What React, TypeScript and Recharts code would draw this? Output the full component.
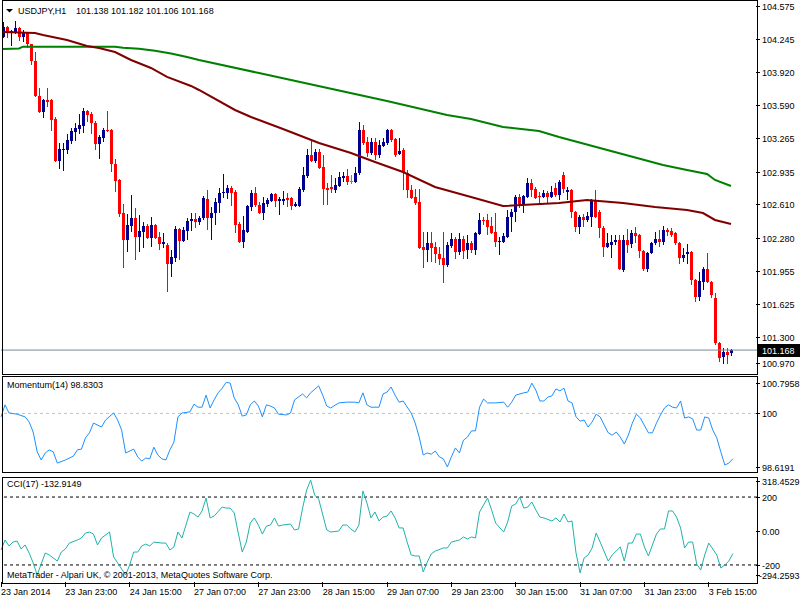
import React from 'react';
import { ComposedChart, Bar, Line, XAxis, YAxis, ReferenceLine } from 'recharts';

const FONT = '"Liberation Sans", Arial, sans-serif';
const BULL = '#000090';
const BEAR = '#FF0000';
const DOJI = '#808080';

const symbolTitle = 'USDJPY,H1';
const ohlcTitle = '101.138 101.182 101.106 101.168';
const momTitle = 'Momentum(14) 98.8303';
const cciTitle = 'CCI(17) -132.9149';
const copyright = 'MetaTrader - Alpari UK, \u00A9 2001-2013, MetaQuotes Software Corp.';

const opens = [104.268,104.367,104.317,104.307,104.357,104.268,104.307,104.198,104.030,103.684,
103.525,103.644,103.644,103.456,103.040,103.149,103.149,103.238,103.327,103.357,
103.386,103.535,103.505,103.416,103.208,103.268,103.347,103.347,103.010,102.852,
102.525,102.258,102.396,102.476,102.287,102.337,102.396,102.278,102.406,102.287,
102.218,102.208,102.020,102.080,102.367,102.248,102.347,102.446,102.466,102.436,
102.476,102.664,102.476,102.525,102.624,102.723,102.723,102.773,102.733,102.416,
102.238,102.337,102.584,102.723,102.604,102.525,102.614,102.644,102.713,102.644,
102.644,102.674,102.674,102.594,102.594,102.753,102.891,103.099,103.040,103.129,
102.981,102.773,102.783,102.753,102.792,102.872,102.891,102.842,102.832,102.921,
103.347,103.228,103.119,103.228,103.099,103.188,103.218,103.347,103.258,103.109,
103.149,102.921,102.753,102.684,102.634,102.188,102.159,102.228,102.188,102.119,
102.080,102.010,102.198,102.268,102.139,102.268,102.159,102.228,102.159,102.317,
102.456,102.456,102.396,102.337,102.238,102.238,102.287,102.485,102.535,102.684,
102.614,102.684,102.822,102.763,102.693,102.684,102.723,102.684,102.773,102.703,
102.901,102.733,102.753,102.535,102.386,102.485,102.456,102.485,102.644,102.535,
102.377,102.188,102.208,102.238,102.258,101.961,102.258,102.218,102.327,102.307,
102.149,101.971,102.129,102.228,102.268,102.238,102.357,102.347,102.327,102.228,
102.080,102.119,102.139,101.862,101.693,101.842,101.971,101.842,101.684,101.238,
101.099,101.149,101.138];

const highs = [104.416,104.377,104.337,104.426,104.367,104.337,104.317,104.198,104.119,103.763,
103.654,103.763,103.654,103.476,103.218,103.218,103.307,103.367,103.416,103.505,
103.565,103.545,103.525,103.436,103.297,103.367,103.535,103.357,103.060,102.862,
102.614,102.515,102.703,102.574,102.505,102.436,102.416,102.485,102.416,102.337,
102.327,102.228,102.159,102.396,102.377,102.386,102.476,102.525,102.525,102.495,
102.693,102.753,102.584,102.674,102.773,102.911,102.802,102.792,102.753,102.436,
102.495,102.604,102.753,102.783,102.634,102.684,102.674,102.723,102.723,102.684,
102.743,102.723,102.684,102.634,102.783,102.981,103.159,103.248,103.159,103.159,
103.099,102.822,102.901,102.872,102.931,102.931,102.961,102.901,102.981,103.426,
103.396,103.278,103.268,103.268,103.248,103.268,103.357,103.357,103.268,103.268,
103.169,102.951,102.802,102.763,102.763,102.337,102.337,102.337,102.238,102.188,
102.337,102.238,102.327,102.287,102.327,102.297,102.307,102.248,102.337,102.525,
102.485,102.515,102.485,102.525,102.287,102.327,102.555,102.565,102.703,102.713,
102.703,102.872,102.862,102.783,102.733,102.753,102.743,102.792,102.822,102.852,
102.931,102.783,102.763,102.545,102.505,102.515,102.535,102.664,102.753,102.555,
102.396,102.327,102.307,102.307,102.307,102.307,102.367,102.357,102.386,102.317,
102.159,102.139,102.238,102.337,102.357,102.396,102.377,102.377,102.337,102.238,
102.179,102.218,102.149,101.872,101.941,101.990,102.129,101.852,101.733,101.248,
101.188,101.188,101.182];

const lows = [104.258,104.258,104.179,104.297,104.228,104.218,104.159,103.990,103.674,103.515,
103.466,103.575,103.337,103.030,102.961,102.941,103.109,103.208,103.238,103.307,
103.317,103.426,103.307,103.149,103.060,103.228,103.327,102.931,102.733,102.485,
101.981,102.139,102.337,102.060,102.139,102.179,102.268,102.188,102.268,102.159,
102.179,101.743,101.891,102.040,102.060,102.238,102.258,102.347,102.377,102.406,
102.456,102.357,102.258,102.406,102.525,102.674,102.664,102.594,102.327,102.228,
102.179,102.327,102.545,102.584,102.515,102.456,102.584,102.634,102.584,102.505,
102.604,102.584,102.555,102.584,102.584,102.733,102.872,103.030,103.020,102.961,
102.604,102.604,102.723,102.723,102.783,102.832,102.802,102.812,102.822,102.901,
103.198,103.080,103.099,103.050,103.070,103.179,103.198,103.228,103.080,103.099,
102.753,102.674,102.664,102.604,102.169,101.981,102.040,102.040,102.030,102.010,
101.832,101.990,102.179,102.070,102.109,102.070,102.070,102.129,102.109,102.307,
102.406,102.307,102.317,102.188,102.109,102.228,102.278,102.337,102.436,102.575,
102.525,102.674,102.684,102.664,102.604,102.674,102.614,102.674,102.684,102.654,
102.723,102.654,102.476,102.337,102.317,102.386,102.436,102.386,102.476,102.278,
102.089,102.179,102.080,102.208,101.961,101.941,102.129,102.179,102.228,102.080,
101.951,101.941,102.119,102.208,102.188,102.208,102.297,102.287,102.208,102.020,
102.040,102.020,101.812,101.644,101.654,101.763,101.832,101.684,101.218,101.050,
101.030,101.030,101.106];

const closes = [104.367,104.307,104.327,104.357,104.268,104.317,104.198,104.030,103.684,103.525,
103.644,103.624,103.446,103.040,103.159,103.159,103.248,103.337,103.367,103.396,
103.535,103.495,103.416,103.208,103.278,103.347,103.337,103.010,102.842,102.515,
102.258,102.406,102.476,102.287,102.347,102.396,102.278,102.406,102.278,102.218,
102.238,102.020,102.089,102.367,102.248,102.357,102.446,102.466,102.436,102.476,
102.674,102.476,102.525,102.634,102.723,102.733,102.773,102.723,102.406,102.238,
102.357,102.594,102.723,102.604,102.525,102.624,102.654,102.713,102.644,102.664,
102.664,102.654,102.594,102.614,102.763,102.901,103.099,103.040,103.129,102.971,
102.763,102.753,102.763,102.802,102.882,102.891,102.832,102.842,102.921,103.347,
103.218,103.119,103.228,103.099,103.198,103.228,103.347,103.248,103.099,103.139,
102.931,102.753,102.674,102.624,102.179,102.159,102.228,102.179,102.119,102.070,
102.010,102.208,102.268,102.139,102.268,102.149,102.228,102.159,102.327,102.456,
102.446,102.386,102.327,102.238,102.248,102.297,102.485,102.535,102.684,102.614,
102.693,102.822,102.753,102.674,102.684,102.723,102.684,102.733,102.703,102.832,
102.763,102.753,102.535,102.386,102.485,102.456,102.495,102.644,102.485,102.377,
102.188,102.228,102.238,102.258,101.971,102.258,102.208,102.327,102.297,102.149,
101.971,102.129,102.228,102.268,102.238,102.357,102.337,102.307,102.228,102.080,
102.109,102.139,101.862,101.693,101.852,101.971,101.842,101.713,101.238,101.089,
101.149,101.119,101.168];

// moving averages: [bar index, value]
const maSlow = [[0,104.149],[4,104.154],[5,104.172],[28,104.172],[30,104.162],[34,104.152],[38,104.132],[42,104.104],[46,104.070],[49,104.040],[64,103.911],[80,103.773],[96,103.634],[111,103.495],[117,103.456],[125,103.377],[134,103.337],[139,103.278],[152,103.139],[165,103.000],[171,102.951],[176,102.911],[178,102.852],[182,102.792]];
const maFast = [[0,104.317],[8,104.307],[10,104.287],[16,104.238],[21,104.179],[24,104.159],[28,104.119],[32,104.040],[37,103.961],[41,103.872],[47,103.783],[49,103.743],[58,103.545],[62,103.476],[70,103.357],[79,103.218],[87,103.119],[93,103.030],[100,102.931],[108,102.783],[117,102.684],[125,102.594],[139,102.624],[146,102.654],[155,102.624],[163,102.584],[171,102.555],[175,102.525],[178,102.456],[182,102.416]];

const momentum = [[0,99.91],[1,100.22],[2,100.01],[4,99.98],[6,99.91],[7,99.78],[8,99.52],[9,99.01],[10,98.80],[11,98.98],[12,99.06],[13,99.01],[14,98.72],[16,98.80],[18,98.90],[19,99.06],[20,99.08],[21,99.37],[22,99.50],[23,99.75],[25,99.65],[26,99.83],[28,100.01],[29,99.83],[30,99.57],[31,98.98],[33,99.08],[34,98.88],[35,98.77],[36,98.85],[37,98.83],[38,99.13],[39,98.93],[40,98.83],[41,98.80],[42,99.06],[43,99.26],[44,99.91],[45,100.01],[47,100.04],[48,100.24],[49,100.16],[50,100.16],[51,100.47],[52,100.14],[53,100.35],[54,100.53],[55,100.65],[56,100.80],[57,100.78],[58,100.40],[59,100.22],[60,99.93],[61,99.96],[62,100.22],[63,100.32],[64,100.19],[65,99.91],[66,100.22],[67,100.19],[68,100.14],[69,99.98],[71,99.96],[72,100.01],[73,100.35],[75,100.50],[76,100.40],[77,100.53],[79,100.71],[80,100.47],[81,100.19],[82,100.14],[84,100.27],[86,100.29],[88,100.29],[89,100.27],[90,100.53],[91,100.22],[92,100.16],[94,100.16],[95,100.50],[96,100.55],[97,100.68],[98,100.47],[99,100.29],[100,100.32],[102,100.01],[103,99.75],[104,99.39],[105,98.93],[106,98.98],[107,98.95],[108,99.03],[109,98.88],[110,98.83],[111,98.62],[112,98.88],[113,99.11],[114,98.98],[115,99.31],[116,99.39],[117,99.55],[118,99.55],[119,100.16],[120,100.37],[121,100.27],[123,100.27],[125,100.29],[126,100.16],[127,100.29],[128,100.47],[130,100.53],[131,100.55],[132,100.78],[133,100.60],[134,100.32],[135,100.32],[136,100.42],[137,100.45],[138,100.63],[139,100.58],[140,100.65],[141,100.32],[142,100.27],[143,99.91],[144,99.80],[145,99.83],[146,99.65],[147,99.78],[148,99.98],[149,99.91],[150,99.70],[151,99.50],[152,99.44],[153,99.52],[154,99.39],[155,99.21],[156,99.44],[157,99.75],[158,99.98],[159,99.88],[161,99.50],[162,99.50],[163,99.75],[164,99.96],[165,100.14],[166,100.22],[167,100.16],[168,100.14],[169,100.32],[170,99.88],[171,99.91],[172,99.86],[173,99.57],[174,99.57],[175,99.91],[176,99.88],[177,99.57],[178,99.37],[179,99.01],[180,98.67],[181,98.72],[182,98.8303]];

const cci = [[0,-112],[1,-53],[2,-88],[3,-65],[4,-59],[5,-106],[6,-82],[7,-130],[8,-188],[9,-259],[10,-194],[11,-130],[12,-141],[14,-177],[15,-124],[16,-106],[17,-71],[19,-53],[20,-41],[21,-12],[22,-6],[23,-18],[24,-82],[25,-41],[27,-6],[28,-153],[29,-188],[30,-224],[31,-259],[32,-200],[33,-124],[34,-124],[35,-88],[36,-77],[37,-88],[38,-65],[40,-71],[41,-71],[42,-112],[43,-94],[44,-6],[45,-41],[47,112],[48,100],[49,82],[50,118],[51,194],[52,77],[53,88],[55,141],[56,135],[57,135],[58,106],[59,-12],[60,-124],[61,-65],[62,47],[63,77],[64,35],[65,-18],[66,29],[67,35],[68,77],[69,29],[70,35],[72,41],[73,6],[74,12],[75,135],[76,241],[77,300],[78,212],[79,188],[81,6],[82,-6],[84,0],[85,35],[86,35],[87,12],[88,-6],[89,35],[90,236],[91,165],[92,77],[93,112],[94,59],[95,82],[96,88],[97,118],[98,77],[99,18],[100,18],[101,-65],[102,-141],[103,-147],[104,-147],[105,-241],[106,-183],[107,-135],[108,-118],[110,-100],[111,-100],[112,-65],[114,-53],[115,-35],[116,-47],[117,-35],[118,-41],[119,112],[121,194],[122,124],[123,47],[125,-6],[126,53],[127,147],[128,159],[129,200],[130,135],[131,141],[132,171],[133,124],[134,82],[135,77],[137,59],[138,77],[139,53],[140,100],[141,53],[142,59],[143,-130],[144,-247],[145,-159],[146,-141],[147,-100],[148,-12],[149,-65],[151,-177],[152,-141],[154,-94],[155,-177],[156,-71],[157,-71],[158,-18],[159,-18],[160,-94],[161,-147],[162,-82],[163,-18],[164,12],[165,12],[166,118],[167,118],[168,82],[169,18],[170,-100],[171,-65],[172,-65],[173,-194],[174,-230],[175,-141],[176,-71],[177,-106],[178,-141],[179,-218],[180,-200],[181,-177],[182,-132.9149]];

const xTickIdx = [0,16,32,48,64,80,96,112,128,144,160,176];
const xTickLabels = ['23 Jan 2014','23 Jan 23:00','24 Jan 15:00','27 Jan 07:00','27 Jan 23:00','28 Jan 15:00','29 Jan 07:00','29 Jan 23:00','30 Jan 15:00','31 Jan 07:00','31 Jan 23:00','3 Feb 15:00'];

const priceTicks = [100.970,101.168,101.300,101.625,101.955,102.280,102.610,102.935,103.265,103.590,103.920,104.245,104.575];
const lastPrice = 101.168;
const priceDomain = [100.941, 104.634];
const momTicks = [98.6191, 100, 100.7958];
const momDomain = [98.4905, 100.9634];
const cciTicks = [-294.2593, -200, 0, 200, 318.4529];
const cciDomain = [-300.39, 318.06];
const PAD = 6; // empty bars for chart shift on the right

const toMap = (pairs: number[][]) => new Map(pairs.map(([i, v]) => [i, v]));
const slowM = toMap(maSlow);
const fastM = toMap(maFast);
const momM = toMap(momentum);
const cciM = toMap(cci);

const data = Array.from({ length: opens.length + PAD }, (_, i) => {
  const row: any = { i };
  if (i < opens.length) {
    row.o = opens[i];
    row.h = highs[i];
    row.l = lows[i];
    row.c = closes[i];
    row.range = [lows[i], highs[i]];
  }
  row.maSlow = slowM.has(i) ? slowM.get(i) : null;
  row.maFast = fastM.has(i) ? fastM.get(i) : null;
  row.mom = momM.has(i) ? momM.get(i) : null;
  row.cci = cciM.has(i) ? cciM.get(i) : null;
  return row;
});

const Candle = (props: any) => {
  const { x, y, width, height, payload } = props;
  if (!payload || payload.o == null || x == null || y == null) return null;
  const top = Math.min(y, y + height);
  const h = Math.abs(height);
  const span = payload.h - payload.l;
  const k = span > 0 ? h / span : 0;
  const yOf = (v: number) => top + (payload.h - v) * k;
  const cx = x + width / 2;
  const color = payload.c > payload.o ? BULL : payload.c < payload.o ? BEAR : DOJI;
  const bTop = Math.round(yOf(Math.max(payload.o, payload.c)));
  const bBot = Math.round(yOf(Math.min(payload.o, payload.c)));
  const wTop = Math.round(top);
  const wBot = Math.round(top + h);
  return (
    <g>
      <rect x={Math.round(cx - 0.5)} y={wTop} width={1} height={Math.max(wBot - wTop, 1)} fill={color} />
      <rect x={Math.round(cx - 1.5)} y={bTop} width={3} height={Math.max(bBot - bTop, 1)} fill={color} />
    </g>
  );
};

const makeYTick = (minY: number, maxY: number, fmt: (v: number) => string, boxValue?: number) => (props: any) => {
  const { x, y, payload } = props;
  const v = payload.value;
  const ty = Math.round(Math.min(Math.max(y, minY), maxY));
  const label = fmt(v);
  const tx = label.length > 8 ? x + 2 : x + 5;
  if (boxValue !== undefined && v === boxValue) {
    return (
      <g>
        <rect x={x + 1} y={ty - 6} width={43} height={13} fill="#000" />
        <text x={x + 5} y={ty + 3.5} fill="#fff" fontSize={9} fontFamily={FONT}>{label}</text>
      </g>
    );
  }
  return (
    <g>
      <line x1={x - 1} x2={x + 3} y1={ty + 0.5} y2={ty + 0.5} stroke="#000" strokeWidth={1} />
      <text x={tx} y={ty + 3.5} fill="#000" fontSize={9} fontFamily={FONT}>{label}</text>
    </g>
  );
};

const XTick = (props: any) => {
  const { x, y, payload } = props;
  const idx = xTickIdx.indexOf(payload.value);
  const label = idx >= 0 ? xTickLabels[idx] : '';
  const px = Math.floor(x) + 0.5;
  return (
    <g>
      <line x1={px} x2={px} y1={y} y2={y + 5} stroke="#000" strokeWidth={1} />
      <text x={x} y={y + 12.5} fill="#000" fontSize={9} fontFamily={FONT}>{label}</text>
    </g>
  );
};

const fmtPrice = (v: number) => v.toFixed(3);
const fmtMom = (v: number) => (v === 100 ? '100' : v.toFixed(4));
const fmtCci = (v: number) => (v === 0 ? '0.00' : Math.abs(v) === 200 ? String(v) : v.toFixed(4));

const Frame = ({ left, top, right, bottom }: any) => (
  <div style={{ position: 'absolute', left, top, width: right - left - 1, height: bottom - top - 1, border: '1px solid #000', pointerEvents: 'none' }} />
);

const margin = { top: 0, right: 0, bottom: 0, left: 1 };

export default function App() {
  return (
    <div style={{ position: 'absolute', left: 0, top: 0, width: 800, height: 600, background: '#fff', overflow: 'hidden', fontFamily: FONT }}>
      <div style={{ position: 'absolute', left: 0, top: 0 }}>
        <ComposedChart width={800} height={373} data={data} margin={margin} barCategoryGap={0}>
          <XAxis dataKey="i" hide />
          <YAxis orientation="right" width={43} domain={priceDomain} allowDataOverflow ticks={priceTicks} interval={0}
            axisLine={false} tickLine={false} tickSize={0} tickMargin={0}
            tick={makeYTick(6, 363, fmtPrice, lastPrice)} />
          <ReferenceLine y={lastPrice} stroke="#778899" strokeWidth={1} />
          <Bar dataKey="range" shape={(p: any) => <Candle {...p} />} isAnimationActive={false} />
          <Line dataKey="maSlow" stroke="#008000" strokeWidth={2} dot={false} connectNulls isAnimationActive={false} />
          <Line dataKey="maFast" stroke="#800000" strokeWidth={2} dot={false} connectNulls isAnimationActive={false} />
        </ComposedChart>
      </div>
      <div style={{ position: 'absolute', left: 0, top: 376 }}>
        <ComposedChart width={800} height={96} data={data} margin={margin}>
          <XAxis dataKey="i" hide />
          <YAxis orientation="right" width={43} domain={momDomain} allowDataOverflow ticks={momTicks} interval={0}
            axisLine={false} tickLine={false} tickSize={0} tickMargin={0}
            tick={makeYTick(6, 91, fmtMom)} />
          <ReferenceLine y={100} stroke="#C0C0C0" strokeDasharray="3 3" />
          <Line dataKey="mom" stroke="#1E90FF" strokeWidth={1} dot={false} connectNulls isAnimationActive={false} />
        </ComposedChart>
      </div>
      <div style={{ position: 'absolute', left: 0, top: 477 }}>
        <ComposedChart width={800} height={123} data={data} margin={margin}>
          <XAxis dataKey="i" height={18} ticks={xTickIdx} interval={0} axisLine={false} tickLine={false}
            tickSize={0} tickMargin={0} tick={<XTick />} />
          <YAxis orientation="right" width={43} domain={cciDomain} allowDataOverflow ticks={cciTicks} interval={0}
            axisLine={false} tickLine={false} tickSize={0} tickMargin={0}
            tick={makeYTick(4, 98, fmtCci)} />
          <ReferenceLine y={200} stroke="#000" strokeDasharray="3 3" />
          <ReferenceLine y={-200} stroke="#000" strokeDasharray="3 3" />
          <Line dataKey="cci" stroke="#20B2AA" strokeWidth={1} dot={false} connectNulls isAnimationActive={false} />
        </ComposedChart>
      </div>
      <Frame left={2} top={0} right={757} bottom={374} />
      <Frame left={2} top={376} right={757} bottom={472} />
      <Frame left={2} top={477} right={757} bottom={583} />
      <svg width={800} height={600} style={{ position: 'absolute', left: 0, top: 0, pointerEvents: 'none' }}>
        <polygon points="6,9 13,9 9.5,12.5" fill="#000" />
        <text x={18} y={14} fontSize={9} fontFamily={FONT} fill="#000">{symbolTitle}</text>
        <text x={76} y={14} fontSize={9} fontFamily={FONT} fill="#000">{ohlcTitle}</text>
        <text x={7} y={387.5} fontSize={9} fontFamily={FONT} fill="#000">{momTitle}</text>
        <text x={7} y={487} fontSize={9} fontFamily={FONT} fill="#000">{cciTitle}</text>
        <text x={7} y={577.5} fontSize={9} fontFamily={FONT} fill="#000">{copyright}</text>
      </svg>
    </div>
  );
}
